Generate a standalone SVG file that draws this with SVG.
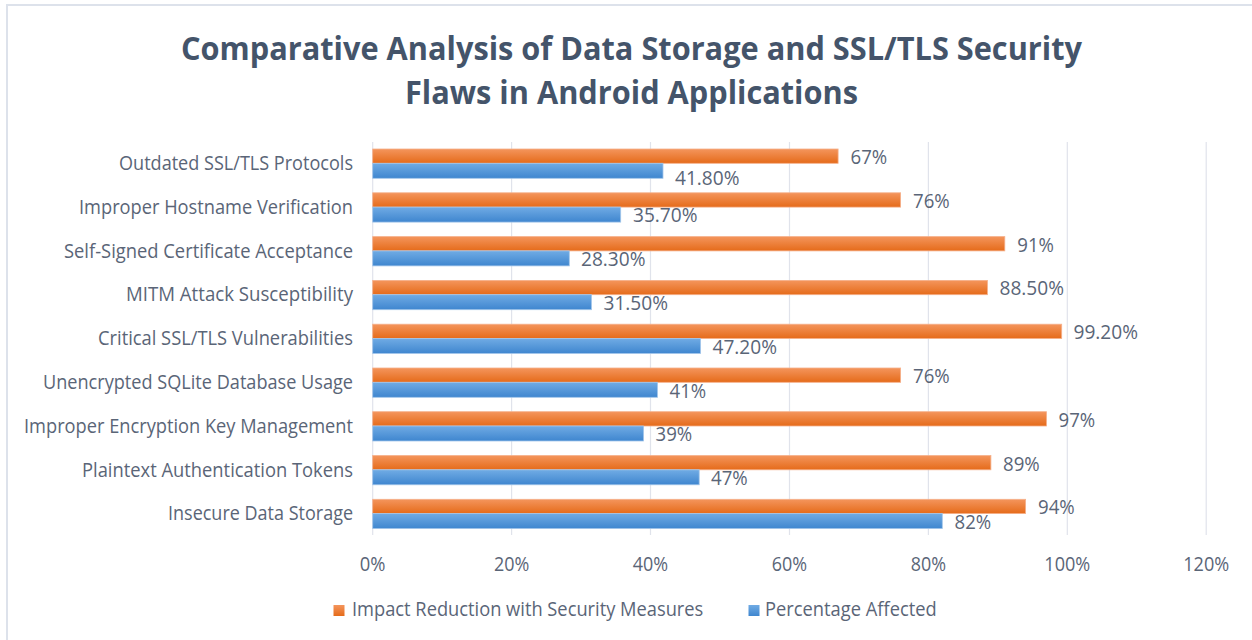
<svg xmlns="http://www.w3.org/2000/svg" width="1252" height="640" viewBox="0 0 1252 640">
<style>
.t{font-family:"Open Sans","Noto Sans","Liberation Sans",sans-serif;font-size:19.5px;fill:#5a6577}
.cat{text-anchor:end}
.ax{text-anchor:middle}
.title{font-family:"Open Sans","Noto Sans","Liberation Sans",sans-serif;font-size:32px;font-weight:bold;fill:#44546a;text-anchor:middle}
.grid{stroke:#e0e3eb;stroke-width:1.2}
.ob{fill:url(#og);stroke:#f6b08a;stroke-width:0.8}
.bb{fill:url(#bg);stroke:#a3c6ea;stroke-width:0.8}
</style>
<defs>
<linearGradient id="og" x1="0" y1="0" x2="0" y2="1">
<stop offset="0" stop-color="#f4955c"/>
<stop offset="1" stop-color="#e56b1a"/>
</linearGradient>
<linearGradient id="bg" x1="0" y1="0" x2="0" y2="1">
<stop offset="0" stop-color="#70abe4"/>
<stop offset="1" stop-color="#3f86cf"/>
</linearGradient>
</defs>
<rect x="0" y="0" width="1252" height="640" fill="#ffffff"/>
<rect id="frame" x="7" y="5" width="1300" height="700" fill="none" stroke="#dde2eb" stroke-width="2"/>
<g id="title">
<text class="title" x="631.5" y="60" textLength="901" lengthAdjust="spacingAndGlyphs">Comparative Analysis of Data Storage and SSL/TLS Security</text>
<text class="title" x="631.5" y="104" textLength="453" lengthAdjust="spacingAndGlyphs">Flaws in Android Applications</text>
</g>
<g id="gridlines">
<line class="grid" x1="372.7" y1="142" x2="372.7" y2="535"/>
<line class="grid" x1="511.6" y1="142" x2="511.6" y2="535"/>
<line class="grid" x1="650.5" y1="142" x2="650.5" y2="535"/>
<line class="grid" x1="789.5" y1="142" x2="789.5" y2="535"/>
<line class="grid" x1="928.4" y1="142" x2="928.4" y2="535"/>
<line class="grid" x1="1067.3" y1="142" x2="1067.3" y2="535"/>
<line class="grid" x1="1206.2" y1="142" x2="1206.2" y2="535"/>
</g>
<g id="bars">
<rect class="ob" x="372.7" y="149" width="465.4" height="14.3"/>
<rect class="bb" x="372.7" y="163.3" width="290.3" height="15"/>
<rect class="ob" x="372.7" y="192.8" width="527.9" height="14.3"/>
<rect class="bb" x="372.7" y="207.1" width="248.0" height="15"/>
<rect class="ob" x="372.7" y="236.6" width="632.1" height="14.3"/>
<rect class="bb" x="372.7" y="250.9" width="196.6" height="15"/>
<rect class="ob" x="372.7" y="280.4" width="614.7" height="14.3"/>
<rect class="bb" x="372.7" y="294.7" width="218.8" height="15"/>
<rect class="ob" x="372.7" y="324.2" width="689.0" height="14.3"/>
<rect class="bb" x="372.7" y="338.5" width="327.9" height="15"/>
<rect class="ob" x="372.7" y="368.0" width="527.9" height="14.3"/>
<rect class="bb" x="372.7" y="382.3" width="284.8" height="15"/>
<rect class="ob" x="372.7" y="411.7" width="673.8" height="14.3"/>
<rect class="bb" x="372.7" y="426.0" width="270.9" height="15"/>
<rect class="ob" x="372.7" y="455.5" width="618.2" height="14.3"/>
<rect class="bb" x="372.7" y="469.8" width="326.5" height="15"/>
<rect class="ob" x="372.7" y="499.3" width="652.9" height="14.3"/>
<rect class="bb" x="372.7" y="513.6" width="569.6" height="15"/>
</g>
<g id="category-labels">
<text class="t cat" x="353" y="170" textLength="234" lengthAdjust="spacingAndGlyphs">Outdated SSL/TLS Protocols</text>
<text class="t cat" x="353" y="213.8" textLength="274" lengthAdjust="spacingAndGlyphs">Improper Hostname Verification</text>
<text class="t cat" x="353" y="257.6" textLength="289" lengthAdjust="spacingAndGlyphs">Self-Signed Certificate Acceptance</text>
<text class="t cat" x="353" y="301.4" textLength="227" lengthAdjust="spacingAndGlyphs">MITM Attack Susceptibility</text>
<text class="t cat" x="353" y="345.2" textLength="255" lengthAdjust="spacingAndGlyphs">Critical SSL/TLS Vulnerabilities</text>
<text class="t cat" x="353" y="389" textLength="310" lengthAdjust="spacingAndGlyphs">Unencrypted SQLite Database Usage</text>
<text class="t cat" x="353" y="432.7" textLength="329" lengthAdjust="spacingAndGlyphs">Improper Encryption Key Management</text>
<text class="t cat" x="353" y="476.5" textLength="271" lengthAdjust="spacingAndGlyphs">Plaintext Authentication Tokens</text>
<text class="t cat" x="353" y="520.3" textLength="185" lengthAdjust="spacingAndGlyphs">Insecure Data Storage</text>
</g>
<g id="value-labels">
<text class="t" x="850.5" y="164" textLength="36.7" lengthAdjust="spacingAndGlyphs">67%</text>
<text class="t" x="675" y="185.3" textLength="64.5" lengthAdjust="spacingAndGlyphs">41.80%</text>
<text class="t" x="913" y="207.8" textLength="36.7" lengthAdjust="spacingAndGlyphs">76%</text>
<text class="t" x="633" y="222.4" textLength="64.5" lengthAdjust="spacingAndGlyphs">35.70%</text>
<text class="t" x="1017.3" y="251.6" textLength="36.7" lengthAdjust="spacingAndGlyphs">91%</text>
<text class="t" x="581" y="266.2" textLength="64.5" lengthAdjust="spacingAndGlyphs">28.30%</text>
<text class="t" x="999.5" y="295.4" textLength="64.5" lengthAdjust="spacingAndGlyphs">88.50%</text>
<text class="t" x="603.5" y="310" textLength="64.5" lengthAdjust="spacingAndGlyphs">31.50%</text>
<text class="t" x="1073.5" y="339.2" textLength="64.5" lengthAdjust="spacingAndGlyphs">99.20%</text>
<text class="t" x="712.5" y="353.8" textLength="64.5" lengthAdjust="spacingAndGlyphs">47.20%</text>
<text class="t" x="913" y="383" textLength="36.7" lengthAdjust="spacingAndGlyphs">76%</text>
<text class="t" x="669.5" y="397.6" textLength="36.7" lengthAdjust="spacingAndGlyphs">41%</text>
<text class="t" x="1058.5" y="426.7" textLength="36.7" lengthAdjust="spacingAndGlyphs">97%</text>
<text class="t" x="655.5" y="441.3" textLength="36.7" lengthAdjust="spacingAndGlyphs">39%</text>
<text class="t" x="1003" y="470.5" textLength="36.7" lengthAdjust="spacingAndGlyphs">89%</text>
<text class="t" x="711" y="485.1" textLength="36.7" lengthAdjust="spacingAndGlyphs">47%</text>
<text class="t" x="1038" y="514.3" textLength="36.7" lengthAdjust="spacingAndGlyphs">94%</text>
<text class="t" x="954.5" y="528.9" textLength="36.7" lengthAdjust="spacingAndGlyphs">82%</text>
</g>
<g id="x-axis-labels">
<text class="t ax" x="372.7" y="570.7" textLength="25.7" lengthAdjust="spacingAndGlyphs">0%</text>
<text class="t ax" x="511.6" y="570.7" textLength="35.3" lengthAdjust="spacingAndGlyphs">20%</text>
<text class="t ax" x="650.5" y="570.7" textLength="35.3" lengthAdjust="spacingAndGlyphs">40%</text>
<text class="t ax" x="789.5" y="570.7" textLength="35.3" lengthAdjust="spacingAndGlyphs">60%</text>
<text class="t ax" x="928.4" y="570.7" textLength="35.3" lengthAdjust="spacingAndGlyphs">80%</text>
<text class="t ax" x="1067.3" y="570.7" textLength="46" lengthAdjust="spacingAndGlyphs">100%</text>
<text class="t ax" x="1206.2" y="570.7" textLength="46" lengthAdjust="spacingAndGlyphs">120%</text>
</g>
<g id="legend">
<rect x="333.5" y="605" width="11" height="11" fill="url(#og)"/>
<text class="t" x="352" y="615.7" textLength="351.3" lengthAdjust="spacingAndGlyphs">Impact Reduction with Security Measures</text>
<rect x="748.5" y="605" width="11" height="11" fill="url(#bg)"/>
<text class="t" x="765" y="615.7" textLength="171.7" lengthAdjust="spacingAndGlyphs">Percentage Affected</text>
</g>
</svg>
